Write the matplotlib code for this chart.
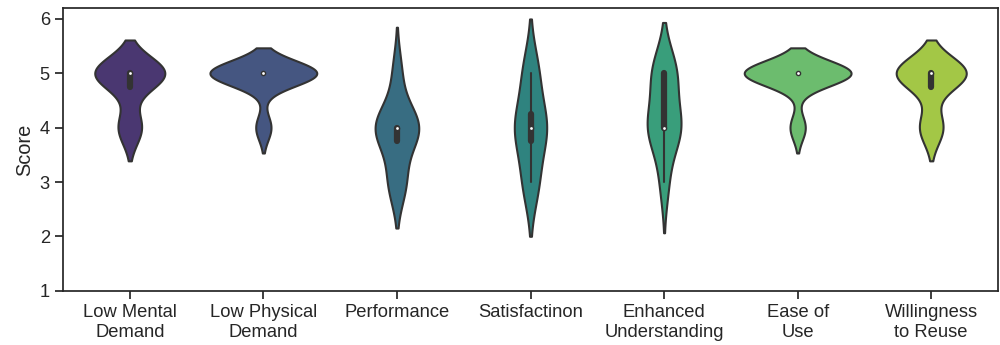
import matplotlib
matplotlib.use("Agg")
import matplotlib.pyplot as plt
import numpy as np
import pandas as pd
import seaborn as sns

# questionnaire scores per item (8 participants, 1-5 scale)
categories = ["Low Mental\nDemand", "Low Physical\nDemand", "Performance",
              "Satisfactinon", "Enhanced\nUnderstanding", "Ease of\nUse",
              "Willingness\nto Reuse"]
low_mental     = [4, 4, 5, 5, 5, 5, 5, 5]
low_physical   = [4, 5, 5, 5, 5, 5, 5, 5]
performance    = [3, 3, 4, 4, 4, 4, 4, 5]
satisfaction   = [3, 3, 4, 4, 4, 4, 5, 5]
enhanced_under = [3, 4, 4, 4, 4, 5, 5, 5]
ease_of_use    = [4, 5, 5, 5, 5, 5, 5, 5]
willingness    = [4, 4, 5, 5, 5, 5, 5, 5]
y_ticks = [1, 2, 3, 4, 5, 6]

series = [low_mental, low_physical, performance, satisfaction,
          enhanced_under, ease_of_use, willingness]
df = pd.DataFrame({
    "Item": [c for c, s in zip(categories, series) for _ in s],
    "Score": [v for s in series for v in s],
})

sns.set_theme(style="ticks", font_scale=1.2)
plt.rcParams["font.family"] = ["Liberation Sans", "DejaVu Sans"]

GRAY = "#333333"
LW = 1.5

fig, ax = plt.subplots(figsize=(10, 3.45), dpi=100)
sns.violinplot(data=df, x="Item", y="Score", hue="Item", order=categories,
               hue_order=categories, palette="viridis", legend=False,
               common_norm=True, inner=None, linewidth=LW, linecolor=GRAY,
               ax=ax)

# old-style inner box: whiskers, thick IQR bar, white median dot
for i, s in enumerate(series):
    d = np.asarray(s, dtype=float)
    q25, q50, q75 = np.percentile(d, [25, 50, 75])
    lim = 1.5 * (q75 - q25)
    lo = d[d >= q25 - lim].min()
    hi = d[d <= q75 + lim].max()
    ax.plot([i, i], [lo, hi], color=GRAY, lw=LW, solid_capstyle="round",
            zorder=2)
    ax.plot([i, i], [q25, q75], color=GRAY, lw=LW * 3,
            solid_capstyle="round", zorder=2)
    ax.scatter([i], [q50], s=np.square(LW * 2), color="white",
               edgecolor=GRAY, zorder=3)

ax.set_xlabel("")
ax.set_ylabel("Score")
ax.set_yticks(y_ticks)
ax.set_ylim(1, 6.2)
ax.set_xlim(-0.5, len(categories) - 0.5)

fig.subplots_adjust(left=0.063, right=0.998, top=0.977, bottom=0.157)
fig.savefig("out.png", dpi=100)
